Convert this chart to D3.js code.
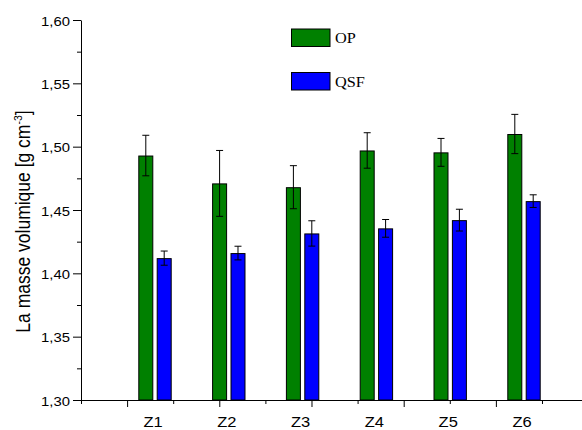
<!DOCTYPE html>
<html>
<head>
<meta charset="utf-8">
<script src="https://cdn.jsdelivr.net/npm/d3@7"></script>
<style>
  html, body { margin: 0; padding: 0; background: #fff; }
  svg { display: block; }
</style>
</head>
<body>
<svg id="chart" width="582" height="430"></svg>
<script>
// ---- data ----
const categories = ["Z1", "Z2", "Z3", "Z4", "Z5", "Z6"];
const seriesNames = ["OP", "QSF"];
const opValues  = [1.493, 1.471, 1.468, 1.497, 1.4955, 1.510];
const opErrors  = [0.016, 0.026, 0.017, 0.014, 0.011, 0.0155];
const qsfValues = [1.412, 1.416, 1.4315, 1.4355, 1.442, 1.457];
const qsfErrors = [0.0056, 0.0054, 0.010, 0.007, 0.0086, 0.005];
const yMajorTicks = [1.30, 1.35, 1.40, 1.45, 1.50, 1.55, 1.60];
const yMinorTicks = [1.325, 1.375, 1.425, 1.475, 1.525, 1.575];
const xMajorTicks = [1, 3, 5, 7, 9];
const xMinorTicks = [0, 2, 4, 6, 8, 10];
const colors = { OP: "#008000", QSF: "#0000ff" };

// ---- layout ----
const svg = d3.select("#chart");
const plotLeft = 81, plotRight = 582, plotTop = 20, plotBottom = 400;
const sans = "'Liberation Sans', Arial, sans-serif";
const serif = "'Liberation Serif', 'Times New Roman', serif";
const stretch = 1.1; // horizontal stretch of the original picture's text

const y = d3.scaleLinear().domain([1.30, 1.60]).range([plotBottom, plotTop]);
const xTick = d3.scaleLinear().domain([0, 10.868]).range([plotLeft, plotRight]);

const x0 = d3.scaleBand().domain(categories).range([118.1, 560.9]).padding(0);
const x1 = d3.scaleBand().domain(seriesNames).range([0, x0.bandwidth()])
  .paddingInner(0.185).paddingOuter(1.098);

const rows = categories.map((c, i) => ({
  cat: c,
  vals: [
    { s: "OP", v: opValues[i], e: opErrors[i] },
    { s: "QSF", v: qsfValues[i], e: qsfErrors[i] }
  ]
}));

const locale = d3.formatLocale({ decimal: ",", thousands: ".", grouping: [3], currency: ["", ""] });
const fmt = locale.format(".2f");

// ---- bars ----
const groups = svg.append("g").selectAll("g").data(rows).join("g")
  .attr("transform", d => `translate(${x0(d.cat)},0)`);

groups.selectAll("rect").data(d => d.vals).join("rect")
  .attr("x", d => x1(d.s) + 0.5)
  .attr("y", d => y(d.v) + 0.5)
  .attr("width", x1.bandwidth() - 1)
  .attr("height", d => y(1.30) - y(d.v) - 0.5)
  .attr("fill", d => colors[d.s])
  .attr("stroke", "#000")
  .attr("stroke-width", 1);

// error bars
const capW = 7;
const eb = groups.selectAll("g.err").data(d => d.vals).join("g").attr("class", "err");
const cx = d => x1(d.s) + x1.bandwidth() / 2;
eb.append("line")
  .attr("x1", cx).attr("x2", cx)
  .attr("y1", d => y(d.v + d.e)).attr("y2", d => y(d.v - d.e))
  .attr("stroke", "#000").attr("stroke-width", 1);
eb.append("line")
  .attr("x1", d => cx(d) - capW / 2).attr("x2", d => cx(d) + capW / 2)
  .attr("y1", d => y(d.v + d.e)).attr("y2", d => y(d.v + d.e))
  .attr("stroke", "#000").attr("stroke-width", 1);
eb.append("line")
  .attr("x1", d => cx(d) - capW / 2).attr("x2", d => cx(d) + capW / 2)
  .attr("y1", d => y(d.v - d.e)).attr("y2", d => y(d.v - d.e))
  .attr("stroke", "#000").attr("stroke-width", 1);

// ---- axes ----
const yAxis = svg.append("g").attr("transform", `translate(${plotLeft},0)`)
  .call(d3.axisLeft(y).tickValues(yMajorTicks).tickFormat(fmt).tickSize(8).tickPadding(3).tickSizeOuter(0));
svg.append("g").attr("transform", `translate(${plotLeft},0)`)
  .call(d3.axisLeft(y).tickValues(yMinorTicks).tickFormat("").tickSize(4).tickSizeOuter(0))
  .select(".domain").remove();

svg.append("g").attr("transform", `translate(0,${plotBottom})`)
  .call(d3.axisBottom(xTick).tickValues(xMajorTicks).tickFormat("").tickSize(7).tickSizeOuter(0));
svg.append("g").attr("transform", `translate(0,${plotBottom})`)
  .call(d3.axisBottom(xTick).tickValues(xMinorTicks).tickFormat("").tickSize(4).tickSizeOuter(0))
  .select(".domain").remove();

svg.selectAll(".domain, .tick line").attr("stroke", "#000").attr("stroke-width", 1);
yAxis.selectAll(".tick text")
  .attr("x", null).attr("dy", null)
  .attr("transform", `translate(-11,5) scale(${stretch},1)`)
  .attr("font-family", sans)
  .attr("font-size", 13.5).attr("fill", "#000");

// category labels
svg.append("g").selectAll("text").data(categories).join("text")
  .attr("transform", d => `translate(${x0(d) + x0.bandwidth() / 2 - 2},427) scale(${stretch},1)`)
  .attr("text-anchor", "middle")
  .attr("font-family", sans)
  .attr("font-size", 15)
  .attr("fill", "#000")
  .text(d => d);

// y label
const yl = svg.append("text")
  .attr("transform", "translate(30,221.5) rotate(-90) scale(1,1.117)")
  .attr("text-anchor", "middle")
  .attr("font-family", sans)
  .attr("font-size", 17.5)
  .attr("fill", "#000");
yl.append("tspan").text("La masse volumique [g cm");
yl.append("tspan").attr("font-size", 10.5).attr("dy", -7).text("-3");
yl.append("tspan").attr("dy", 7).text("]");

// ---- legend ----
const legend = svg.append("g").selectAll("g").data(seriesNames).join("g")
  .attr("transform", (d, i) => `translate(291,${28.5 + i * 43.5})`);
legend.append("rect")
  .attr("x", 0.5).attr("y", 0.5).attr("width", 38.5).attr("height", 17.5)
  .attr("fill", d => colors[d]).attr("stroke", "#000").attr("stroke-width", 1);
legend.append("text")
  .attr("transform", `translate(44,14.5) scale(1.05,1)`)
  .attr("font-family", serif)
  .attr("font-size", 15.5)
  .attr("fill", "#000")
  .text(d => d);
</script>
</body>
</html>
